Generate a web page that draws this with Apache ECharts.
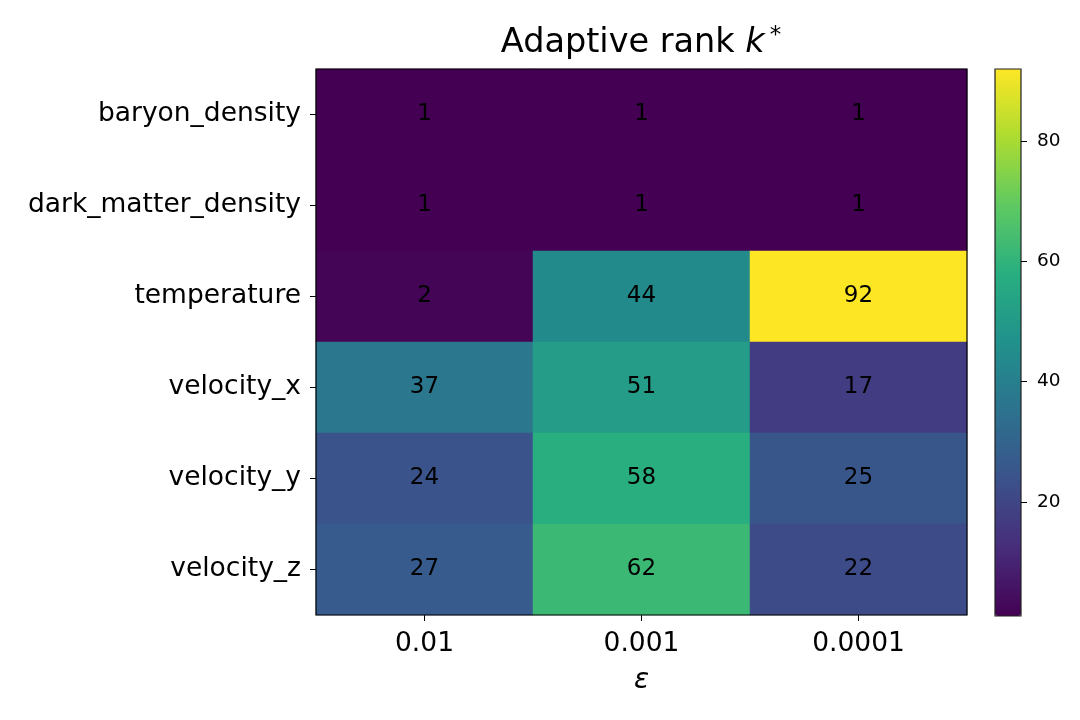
<!DOCTYPE html>
<html><head><meta charset="utf-8">
<script src="https://cdn.jsdelivr.net/npm/echarts@6/dist/echarts.min.js"></script>
<style>html,body{margin:0;padding:0;background:#fff}#c{width:1080px;height:720px}</style>
</head><body><div id="c"></div>
<script>
const epsLabels = ['0.01', '0.001', '0.0001'];
const fields = ['baryon_density', 'dark_matter_density', 'temperature', 'velocity_x', 'velocity_y', 'velocity_z'];
const baryon_density = [1, 1, 1];
const dark_matter_density = [1, 1, 1];
const temperature = [2, 44, 92];
const velocity_x = [37, 51, 17];
const velocity_y = [24, 58, 25];
const velocity_z = [27, 62, 22];
const colorbarTicks = [20, 40, 60, 80];
const vmin = 1, vmax = 92;

const rows = [baryon_density, dark_matter_density, temperature, velocity_x, velocity_y, velocity_z];
const data = [];
rows.forEach((r, yi) => r.forEach((v, xi) => data.push([xi, yi, v])));

const viridis = ['#440154', '#472d7b', '#3b528b', '#2c728e', '#21918c', '#28ae80', '#5ec962', '#addc30', '#fde725'];
const FONT = 'DejaVu Sans';

const chart = echarts.init(document.getElementById('c'), null, {renderer: 'canvas'});
chart.setOption({
  backgroundColor: '#fff',
  animation: false,
  textStyle: {fontFamily: FONT},
  title: {
    text: '{a|Adaptive rank }{k|k}{s|*}',
    left: 641, top: 25, textAlign: 'center', padding: 0,
    textStyle: {
      fontWeight: 'normal',
      rich: {
        a: {fontSize: 33.5, fontFamily: FONT, fontWeight: 'normal', color: '#000'},
        k: {fontSize: 33.5, fontFamily: FONT, fontStyle: 'italic', fontWeight: 'normal', color: '#000'},
        s: {fontSize: 23, fontFamily: FONT, fontWeight: 'normal', color: '#000', verticalAlign: 'top', padding: [0, 0, 14, 5]}
      }
    }
  },
  grid: [
    {left: 316, right: 113, top: 69, bottom: 105, show: true, borderColor: '#000', borderWidth: 1.2, backgroundColor: 'transparent', z: 10},
    {left: 995, width: 26, top: 69, height: 547, show: true, borderColor: '#222', borderWidth: 1.2, backgroundColor: 'transparent', z: 10}
  ],
  xAxis: [
    {type: 'category', data: epsLabels, gridIndex: 0,
     axisLine: {show: false}, axisTick: {show: true, alignWithLabel: true, length: 6, lineStyle: {color: '#000'}},
     axisLabel: {fontSize: 26.5, color: '#000', margin: 16, fontFamily: FONT},
     splitLine: {show: false},
     name: 'ε', nameLocation: 'middle', nameGap: 52,
     nameTextStyle: {fontSize: 28, fontStyle: 'italic', color: '#000', fontFamily: FONT}},
    {type: 'category', data: [''], gridIndex: 1, show: false}
  ],
  yAxis: [
    {type: 'category', data: fields, inverse: true, gridIndex: 0,
     axisLine: {show: false}, axisTick: {show: true, alignWithLabel: true, length: 6, lineStyle: {color: '#000'}},
     axisLabel: {fontSize: 26.5, color: '#000', margin: 15, fontFamily: FONT},
     splitLine: {show: false}},
    {type: 'value', gridIndex: 1, position: 'right', min: vmin, max: vmax, z: 20,
     axisLine: {show: false, onZero: false},
     axisTick: {show: true, length: 6, lineStyle: {color: '#000'}, customValues: colorbarTicks},
     axisLabel: {fontSize: 18.5, color: '#000', margin: 16, fontFamily: FONT, customValues: colorbarTicks},
     splitLine: {show: false}}
  ],
  visualMap: {
    type: 'continuous', min: vmin, max: vmax, seriesIndex: 0,
    calculable: false, show: true, left: 995, top: 69, padding: 0,
    itemWidth: 26, itemHeight: 547, showLabel: false,
    inRange: {color: viridis}, textStyle: {color: 'transparent'}
  },
  series: [{
    type: 'heatmap', xAxisIndex: 0, yAxisIndex: 0, data: data,
    label: {show: true, fontSize: 23, color: '#000', fontFamily: FONT},
    itemStyle: {borderWidth: 0},
    emphasis: {disabled: true}
  }]
});
</script></body></html>
